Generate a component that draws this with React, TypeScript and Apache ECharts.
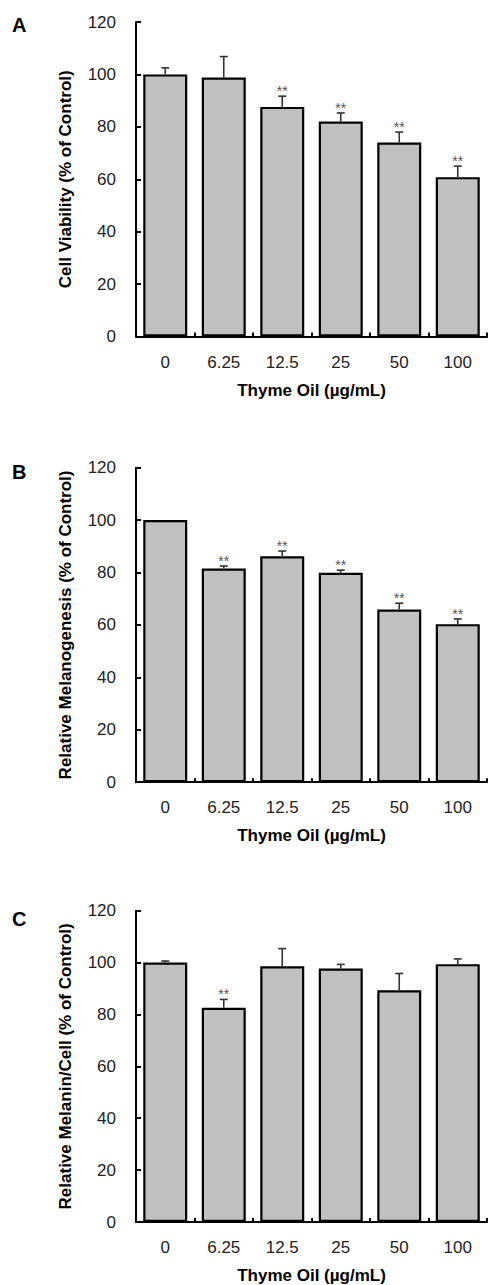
import React, { useEffect, useRef } from "react";
import * as echarts from "echarts";

const categories = ["0", "6.25", "12.5", "25", "50", "100"];
const yTicks = [0, 20, 40, 60, 80, 100, 120];

const meanA = [100, 98.8, 87.6, 82, 74, 60.8];
const errA = [2.5, 8, 4.1, 3.3, 4, 4.2];
const sigA = ["", "", "**", "**", "**", "**"];

const meanB = [100, 81.5, 86.2, 79.9, 65.9, 60.3];
const errB = [0, 1, 2, 1, 2.4, 2];
const sigB = ["", "**", "**", "**", "**", "**"];

const meanC = [100, 82.6, 98.6, 97.7, 89.3, 99.4];
const errC = [0.6, 3.2, 6.8, 1.6, 6.5, 2];
const sigC = ["", "**", "", "", "", ""];

const panelLetters = ["A", "B", "C"];
const yNames = [
  "Cell Viability (% of Control)",
  "Relative Melanogenesis (% of Control)",
  "Relative Melanin/Cell (% of Control)",
];
const xName = "Thyme Oil (\u00b5g/mL)";

const FONT = "'Liberation Sans', Arial, sans-serif";

export default function App() {
  const ref = useRef<HTMLDivElement>(null);
  useEffect(() => {
    if (!ref.current) return;
    const chart = echarts.init(ref.current, null, { renderer: "svg" });
    const panels = [
      { mean: meanA, err: errA, sig: sigA, top: 22, letterY: 15 },
      { mean: meanB, err: errB, sig: sigB, top: 467.7, letterY: 462 },
      { mean: meanC, err: errC, sig: sigC, top: 910.7, letterY: 909 },
    ];
    const H = 314.5;
    const grids: any[] = [];
    const xAxes: any[] = [];
    const yAxes: any[] = [];
    const series: any[] = [];
    const graphics: any[] = [];
    panels.forEach((p, k) => {
      grids.push({ left: 136, width: 351, top: p.top, height: H });
      xAxes.push({
        type: "category",
        gridIndex: k,
        data: categories,
        boundaryGap: true,
        axisLine: { lineStyle: { color: "#000", width: 2 } },
        axisTick: { show: true, inside: true, length: 4, lineStyle: { color: "#000", width: 2 } },
        axisLabel: { color: "#222", fontSize: 17, fontFamily: FONT, margin: 17 },
        name: xName,
        nameLocation: "middle",
        nameGap: 45,
        nameTextStyle: { color: "#000", fontSize: 17, fontWeight: "bold", fontFamily: FONT },
        splitLine: { show: false },
      });
      yAxes.push({
        type: "value",
        gridIndex: k,
        min: 0,
        max: 120,
        interval: 20,
        axisLine: { show: true, lineStyle: { color: "#000", width: 2 } },
        axisTick: { show: true, inside: true, length: 5, lineStyle: { color: "#000", width: 2 } },
        axisLabel: {
          color: "#222",
          fontSize: 17,
          fontFamily: FONT,
          margin: 20,
          formatter: (v: number) => (yTicks.includes(v) ? String(v) : ""),
        },
        splitLine: { show: false },
        name: yNames[k],
        nameLocation: "middle",
        nameRotate: 90,
        nameGap: 62,
        nameTextStyle: { color: "#000", fontSize: 17, fontWeight: "bold", fontFamily: FONT },
      });
      series.push({
        type: "bar",
        xAxisIndex: k,
        yAxisIndex: k,
        data: p.mean,
        barWidth: 44,
        itemStyle: { color: "#c0c0c0", borderColor: "#000", borderWidth: 2.2 },
        z: 2,
      });
      const sig = p.sig;
      series.push({
        type: "custom",
        xAxisIndex: k,
        yAxisIndex: k,
        data: p.mean.map((m, i) => [i, m, p.err[i]]),
        encode: { x: 0, y: 1 },
        z: 3,
        renderItem: (params: any, api: any) => {
          const i = api.value(0);
          const m = api.value(1);
          const e = api.value(2);
          const base = api.coord([i, m]);
          const tip = api.coord([i, m + e]);
          const children: any[] = [];
          if (e > 0) {
            children.push({
              type: "line",
              shape: { x1: base[0], y1: base[1], x2: tip[0], y2: tip[1] },
              style: { stroke: "#333", lineWidth: 1.6 },
            });
            children.push({
              type: "line",
              shape: { x1: tip[0] - 4, y1: tip[1], x2: tip[0] + 4, y2: tip[1] },
              style: { stroke: "#333", lineWidth: 1.6 },
            });
          }
          const s = sig[params.dataIndex];
          if (s) {
            children.push({
              type: "text",
              x: tip[0],
              y: tip[1] - 5,
              style: {
                text: s,
                fill: "#555",
                fontSize: 14,
                fontFamily: FONT,
                align: "center",
                verticalAlign: "middle",
              },
            });
          }
          return { type: "group", children };
        },
      });
      graphics.push({
        type: "text",
        left: 12,
        top: p.letterY,
        style: {
          text: panelLetters[k],
          fill: "#000",
          fontSize: 20,
          fontWeight: "bold",
          fontFamily: FONT,
        },
      });
    });
    chart.setOption({
      animation: false,
      backgroundColor: "#fff",
      grid: grids,
      xAxis: xAxes,
      yAxis: yAxes,
      series,
      graphic: graphics,
    });
    return () => chart.dispose();
  }, []);
  return (
    <div
      ref={ref}
      style={{ position: "absolute", left: 0, top: 0, width: 488, height: 1285 }}
    />
  );
}
